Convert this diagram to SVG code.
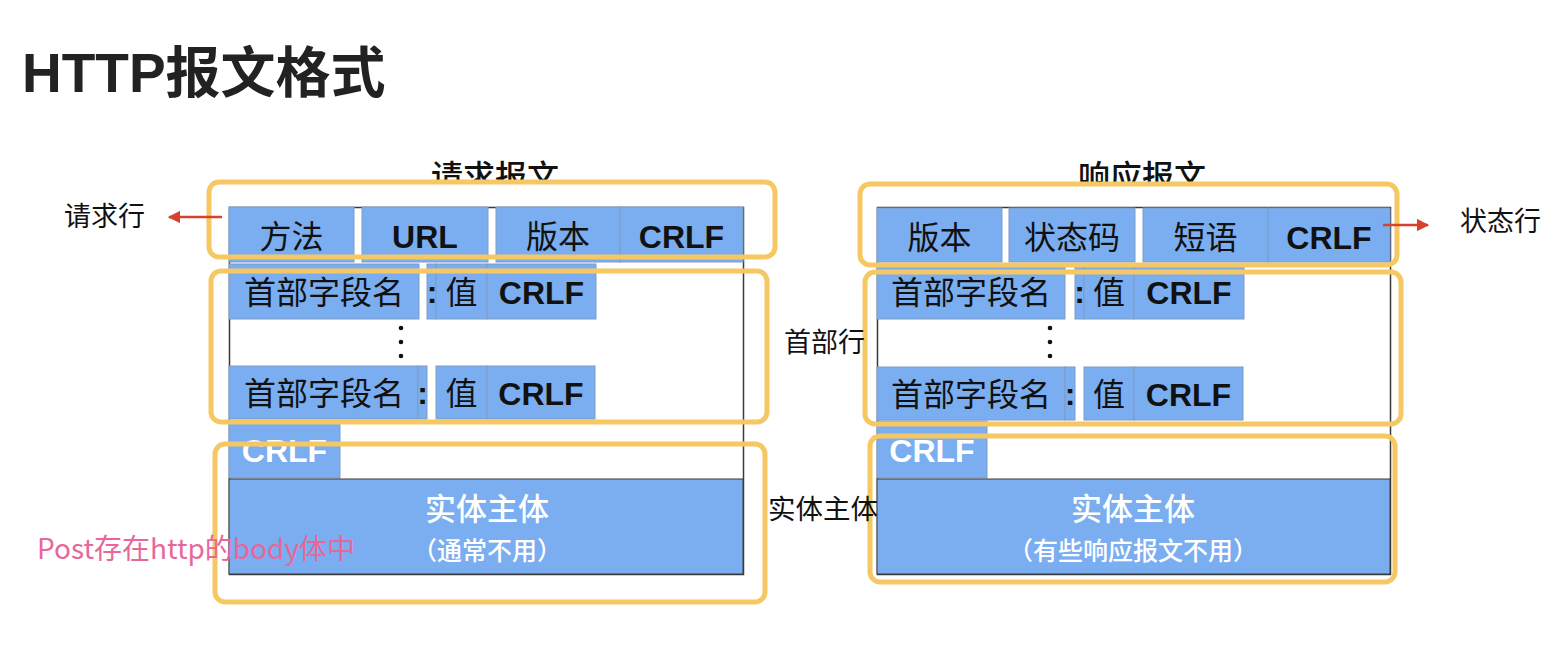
<svg xmlns="http://www.w3.org/2000/svg" width="1568" height="662" viewBox="0 0 1568 662">
<defs>
<style>
.cjk{font-family:"Noto Sans CJK SC","Liberation Sans",sans-serif}
.lat{font-family:"Liberation Sans","Noto Sans CJK SC",sans-serif;font-weight:bold}
.cell{fill:#7aaef0;stroke:#7f9cc4;stroke-width:1}
.frame{fill:#fff;stroke:#3a3a3a;stroke-width:1.5}
.hl{fill:none;stroke:#f5c863;stroke-width:5}
.t{font-size:32px;fill:#111;text-anchor:middle}
.tw{fill:#fff;text-anchor:middle}
.lbl{font-size:27px;fill:#111}
.arrow{stroke:#d9412f;stroke-width:2.5;fill:none}
</style>
<marker id="ah" viewBox="0 0 10 10" refX="9" refY="5" markerWidth="5" markerHeight="5" orient="auto">
<path d="M0,0 L10,5 L0,10 z" fill="#d9412f"/>
</marker>
<clipPath id="c1"><rect x="0" y="0" width="1568" height="184"/></clipPath>
<clipPath id="c2"><rect x="0" y="0" width="1568" height="186"/></clipPath>
</defs>
<rect width="1568" height="662" fill="#fff"/>

<g id="title">
<text x="22" y="92" class="lat" style="font-size:55px;fill:#222">HTTP<tspan class="cjk" style="font-weight:bold">报文格式</tspan></text>
</g>

<g id="request-heading" clip-path="url(#c1)">
<text x="495" y="188" class="cjk" style="font-size:32px;fill:#111;text-anchor:middle;font-weight:500">请求报文</text>
</g>
<g id="response-heading" clip-path="url(#c2)">
<text x="1142" y="188" class="cjk" style="font-size:32px;fill:#111;text-anchor:middle;font-weight:500">响应报文</text>
</g>

<g id="request-message">
<rect class="frame" x="229.5" y="207.5" width="514" height="367"/>
<g id="req-line">
<rect class="cell" x="229" y="207" width="125" height="55"/>
<rect class="cell" x="362" y="207" width="126" height="55"/>
<rect class="cell" x="496" y="207" width="124" height="55"/>
<rect class="cell" x="620" y="207" width="123" height="55"/>
<text class="cjk t" x="291.5" y="248">方法</text>
<text class="lat t" x="425" y="248">URL</text>
<text class="cjk t" x="558" y="248">版本</text>
<text class="lat t" x="681.5" y="248">CRLF</text>
</g>
<g id="req-header1">
<rect class="cell" x="229" y="264" width="190" height="55"/>
<rect class="cell" x="427" y="264" width="9" height="55"/>
<rect class="cell" x="436" y="264" width="51" height="55"/>
<rect class="cell" x="487" y="264" width="109" height="55"/>
<text class="cjk t" x="324" y="304">首部字段名</text>
<text class="lat t" x="432" y="303">:</text>
<text class="cjk t" x="461.5" y="304">值</text>
<text class="lat t" x="541.5" y="304">CRLF</text>
</g>
<g id="req-dots" fill="#111">
<circle cx="401" cy="328" r="2.3"/>
<circle cx="401" cy="342" r="2.3"/>
<circle cx="401" cy="356" r="2.3"/>
</g>
<g id="req-header2">
<rect class="cell" x="229" y="366" width="189" height="53"/>
<rect class="cell" x="418" y="366" width="9" height="53"/>
<rect class="cell" x="436" y="366" width="51" height="53"/>
<rect class="cell" x="487" y="366" width="108" height="53"/>
<text class="cjk t" x="324" y="405">首部字段名</text>
<text class="lat t" x="422.5" y="404">:</text>
<text class="cjk t" x="461.5" y="405">值</text>
<text class="lat t" x="541" y="405">CRLF</text>
</g>
<g id="req-crlf">
<rect class="cell" x="229" y="421" width="111" height="57"/>
<text class="lat tw" x="284.5" y="462" style="font-size:32px">CRLF</text>
</g>
<g id="req-body">
<rect class="cell" x="229" y="479" width="514" height="95" style="stroke:#3a3a3a"/>
<text class="cjk tw" x="487" y="520" style="font-size:31px;font-weight:500">实体主体</text>
<text class="cjk tw" x="487" y="560" style="font-size:25px;font-weight:500">（通常不用）</text>
</g>
</g>

<g id="response-message">
<rect class="frame" x="877.5" y="207.5" width="513" height="367"/>
<g id="resp-line">
<rect class="cell" x="877" y="208" width="125" height="54"/>
<rect class="cell" x="1009" y="208" width="126" height="54"/>
<rect class="cell" x="1143" y="208" width="125" height="54"/>
<rect class="cell" x="1268" y="208" width="122" height="54"/>
<text class="cjk t" x="939.5" y="249">版本</text>
<text class="cjk t" x="1072" y="249">状态码</text>
<text class="cjk t" x="1205.5" y="249">短语</text>
<text class="lat t" x="1329" y="249">CRLF</text>
</g>
<g id="resp-header1">
<rect class="cell" x="877" y="264" width="188" height="55"/>
<rect class="cell" x="1075" y="264" width="9" height="55"/>
<rect class="cell" x="1084" y="264" width="50" height="55"/>
<rect class="cell" x="1134" y="264" width="110" height="55"/>
<text class="cjk t" x="971" y="304">首部字段名</text>
<text class="lat t" x="1079.5" y="303">:</text>
<text class="cjk t" x="1109" y="304">值</text>
<text class="lat t" x="1189" y="304">CRLF</text>
</g>
<g id="resp-dots" fill="#111">
<circle cx="1050" cy="328" r="2.3"/>
<circle cx="1050" cy="342" r="2.3"/>
<circle cx="1050" cy="356" r="2.3"/>
</g>
<g id="resp-header2">
<rect class="cell" x="877" y="367" width="188" height="53"/>
<rect class="cell" x="1065" y="367" width="10" height="53"/>
<rect class="cell" x="1084" y="367" width="50" height="53"/>
<rect class="cell" x="1134" y="367" width="109" height="53"/>
<text class="cjk t" x="971" y="406">首部字段名</text>
<text class="lat t" x="1070" y="405">:</text>
<text class="cjk t" x="1109" y="406">值</text>
<text class="lat t" x="1188.5" y="406">CRLF</text>
</g>
<g id="resp-crlf">
<rect class="cell" x="877" y="421" width="110" height="57"/>
<text class="lat tw" x="932" y="462" style="font-size:32px">CRLF</text>
</g>
<g id="resp-body">
<rect class="cell" x="877" y="479" width="513" height="95" style="stroke:#3a3a3a"/>
<text class="cjk tw" x="1133" y="520" style="font-size:31px;font-weight:500">实体主体</text>
<text class="cjk tw" x="1133" y="560" style="font-size:25px;font-weight:500">（有些响应报文不用）</text>
</g>
</g>

<g id="highlights">
<rect class="hl" x="209" y="182" width="566" height="75" rx="10"/>
<rect class="hl" x="211" y="271" width="556" height="151" rx="10"/>
<rect class="hl" x="215" y="444" width="550" height="158" rx="10"/>
<rect class="hl" x="860" y="184" width="537" height="81" rx="10"/>
<rect class="hl" x="865" y="272" width="536" height="152" rx="10"/>
<rect class="hl" x="870" y="436" width="525" height="146" rx="10"/>
</g>

<g id="labels">
<text id="lbl-req-line" class="cjk lbl" x="64" y="226">请求行</text>
<text id="lbl-status-line" class="cjk lbl" x="1460" y="231">状态行</text>
<text id="lbl-header" class="cjk lbl" x="784" y="352">首部行</text>
<text id="lbl-body" class="cjk lbl" x="768" y="519" style="font-size:27.5px">实体主体</text>
<text id="note" class="cjk" x="37" y="559" style="font-size:28px;fill:#e8679a">Post存在http的body体中</text>
</g>

<g id="connectors">
<line class="arrow" x1="222" y1="217" x2="169" y2="217" marker-end="url(#ah)"/>
<line class="arrow" x1="1383" y1="225" x2="1428" y2="225" marker-end="url(#ah)"/>
</g>
</svg>
